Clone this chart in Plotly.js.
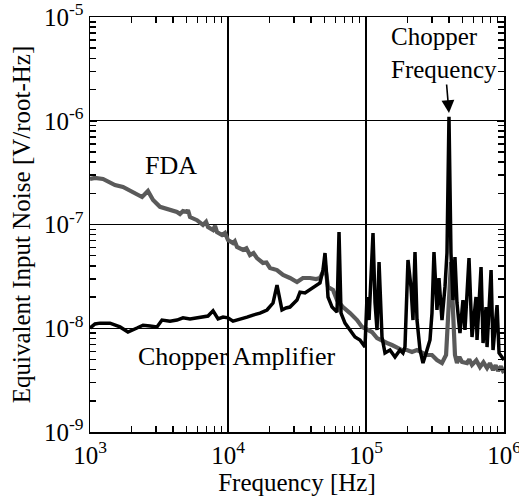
<!DOCTYPE html>
<html>
<head>
<meta charset="utf-8">
<script src="https://cdn.plot.ly/plotly-3.0.1.min.js"></script>
<style>html,body{margin:0;padding:0;background:#fff;}#chart{width:519px;height:502px;}</style>
</head>
<body>
<div id="chart"></div>
<script>
// Chopper amplifier (black): frequency [Hz] and noise [V/rtHz]
var chopFreq = [1000,1087,1181,1396,1649,1884,2191,2422,2722,3057,3324,3800,4269,4720,5306,5962,6586,7164,7792,8472,9206,10000,10870,11620,12220,13740,15180,17060,19170,21190,22650,23820,24610,26310,28120,31620,33250,36140,39280,42700,46410,48790,50460,52170,53050,56740,61660,63750,65920,70450,76580,83230,90460,98330,101700,105200,112400,116300,120200,124300,130600,137300,149200,162200,176300,185300,191600,201500,211800,219000,226500,234200,246200,258800,276700,290800,300700,310900,326800,337900,355300,373500,386200,399300,412800,426800,441300,456300,479700,504300,521400,557700,586300,627100,637600,681900,705100,741200,753700,806100,832700,890700,920800,1000000];
var chopNoise = [1.005e-8,1.10e-8,1.12e-8,1.12e-8,1.03e-8,9.2e-9,1.005e-8,1.07e-8,1.05e-8,1.03e-8,1.20e-8,1.17e-8,1.20e-8,1.26e-8,1.23e-8,1.26e-8,1.28e-8,1.31e-8,1.47e-8,1.23e-8,1.28e-8,1.26e-8,1.17e-8,1.20e-8,1.20e-8,1.28e-8,1.34e-8,1.40e-8,1.50e-8,1.75e-8,2.61e-8,1.87e-8,1.50e-8,1.57e-8,1.60e-8,1.87e-8,2.23e-8,2.19e-8,2.34e-8,2.50e-8,2.73e-8,3.64e-8,5.31e-8,2.92e-8,2.00e-8,1.60e-8,1.43e-8,8.47e-8,1.40e-8,1.12e-8,9.62e-9,8.24e-9,7.71e-9,6.59e-9,2.00e-8,1.20e-8,8.28e-8,1.75e-8,9.62e-9,4.35e-8,8.24e-9,5.77e-9,6.17e-9,5.28e-9,6.17e-9,5.77e-9,6.59e-9,4.55e-8,2.50e-8,1.20e-8,5.43e-8,1.20e-8,6.17e-9,4.62e-9,6.17e-9,7.71e-9,1.40e-8,5.43e-8,1.50e-8,3.05e-8,1.20e-8,2.50e-8,5.31e-8,1.09e-6,5.31e-8,1.87e-8,4.86e-8,1.75e-8,9.00e-9,1.87e-8,9.62e-9,4.75e-8,8.24e-9,2.00e-8,7.71e-9,3.89e-8,7.21e-9,1.60e-8,6.59e-9,3.64e-8,6.17e-9,1.67e-8,5.77e-9,4.94e-9];

// FDA (gray)
var fdaFreq = [1000,1087,1242,1396,1517,1734,2050,2384,2630,2864,3214,3800,4269,4487,4720,5047,5129,5306,5962,6586,6934,7164,7792,8054,8318,9054,9509,10000,10870,11200,11620,12850,13600,14430,15300,16210,17930,19000,20140,22650,25060,28120,31620,34910,39280,43460,46410,48790,50460,53050,57680,61660,68080,76580,86100,93540,101700,110400,120200,130600,141900,154200,167700,182300,198200,215400,234200,254500,276700,300700,326800,355300,380400,399300,412800,426800,441300,456300,475000,496300,539700,560000,586300,630000,670000,710000,753700,790000,832700,870000,905700,950000,1000000];
var fdaNoise = [2.745e-7,2.81e-7,2.745e-7,2.51e-7,2.40e-7,2.30e-7,2.06e-7,1.84e-7,2.10e-7,1.72e-7,1.48e-7,1.38e-7,1.32e-7,1.26e-7,1.35e-7,1.32e-7,1.38e-7,1.18e-7,1.10e-7,9.89e-8,1.06e-7,9.46e-8,8.85e-8,9.67e-8,8.47e-8,7.92e-8,8.28e-8,7.09e-8,6.63e-8,6.9e-8,6.07e-8,5.68e-8,5.9e-8,5.08e-8,5.3e-8,4.75e-8,4.26e-8,4.3e-8,3.81e-8,3.64e-8,3.26e-8,3.05e-8,2.79e-8,3.05e-8,3.05e-8,2.98e-8,3.05e-8,3.48e-8,4.07e-8,2.50e-8,2.34e-8,1.87e-8,1.60e-8,1.40e-8,1.20e-8,1.03e-8,9.62e-9,9.20e-9,8.05e-9,7.71e-9,7.21e-9,6.89e-9,6.59e-9,6.17e-9,6.17e-9,5.90e-9,6.17e-9,5.77e-9,5.52e-9,5.52e-9,4.94e-9,4.62e-9,5.52e-9,1.87e-8,4.35e-8,1.50e-8,5.52e-9,4.62e-9,5.3e-9,4.73e-9,4.62e-9,5.0e-9,4.43e-9,4.9e-9,4.23e-9,4.7e-9,4.14e-9,4.6e-9,3.95e-9,4.4e-9,3.87e-9,4.3e-9,3.70e-9];

var xTickVals = [1e3, 1e4, 1e5, 1e6];
var xTickText = ['10<sup>3</sup>', '10<sup>4</sup>', '10<sup>5</sup>', '10<sup>6</sup>'];
var yTickVals = [1e-9, 1e-8, 1e-7, 1e-6, 1e-5];
var yTickText = ['10<sup>-9</sup>', '10<sup>-8</sup>', '10<sup>-7</sup>', '10<sup>-6</sup>', '10<sup>-5</sup>'];

var chopperPeakFreq = 399300;

function minorVals(lo, hi) {
  var out = [];
  for (var d = lo; d < hi; d++) {
    for (var k = 2; k <= 9; k++) out.push(k * Math.pow(10, d));
  }
  return out;
}

var FONT = '"Liberation Serif"';

var traces = [
  {x: fdaFreq, y: fdaNoise, type: 'scatter', mode: 'lines',
   line: {color: '#5a5a5a', width: 4.2}, name: 'FDA'},
  {x: chopFreq, y: chopNoise, type: 'scatter', mode: 'lines',
   line: {color: '#000000', width: 3.5}, name: 'Chopper Amplifier'}
];

var layout = {
  width: 519, height: 502,
  margin: {l: 90, r: 15, t: 17, b: 70},
  showlegend: false,
  xaxis: {
    type: 'log', range: [3, 6], showline: true, linecolor: '#000', linewidth: 1.5, mirror: 'ticks',
    ticks: 'inside', ticklen: 7, tickcolor: '#000', tickwidth: 1.5,
    showgrid: true, gridcolor: '#000', gridwidth: 1.3,
    tickfont: {family: FONT, size: 25, color: '#000'}, ticklabeloverflow: 'allow',
    tickmode: 'array', tickvals: xTickVals, ticktext: xTickText,
    minor: {tickmode: 'array', tickvals: minorVals(3, 6), ticks: 'inside', ticklen: 6, tickcolor: '#000', tickwidth: 1.5},
    title: {text: 'Frequency [Hz]', font: {family: FONT, size: 25, color: '#000'}, standoff: 6}
  },
  yaxis: {
    type: 'log', range: [-9, -5], showline: true, linecolor: '#000', linewidth: 1.5, mirror: 'ticks',
    ticks: 'inside', ticklen: 7, tickcolor: '#000', tickwidth: 1.5,
    showgrid: true, gridcolor: '#000', gridwidth: 1.3,
    tickfont: {family: FONT, size: 25, color: '#000'}, ticklabeloverflow: 'allow',
    tickmode: 'array', tickvals: yTickVals, ticktext: yTickText,
    minor: {tickmode: 'array', tickvals: minorVals(-9, -5), ticks: 'inside', ticklen: 6, tickcolor: '#000', tickwidth: 1.5},
    title: {text: 'Equivalent Input Noise [V/root-Hz]', font: {family: FONT, size: 25, color: '#000'}, standoff: 6}
  },
  annotations: [
    {x: 3.587, y: -6.436, xref: 'x', yref: 'y', text: 'FDA', showarrow: false,
     font: {family: FONT, size: 26, color: '#000'}},
    {x: 4.065, y: -8.277, xref: 'x', yref: 'y', text: 'Chopper Amplifier', showarrow: false,
     font: {family: FONT, size: 26, color: '#000'}},
    {x: Math.log10(chopperPeakFreq), y: -5.925, xref: 'x', yref: 'y',
     text: 'Chopper<br>Frequency', align: 'left', showarrow: true,
     ax: -5, ay: -60, arrowhead: 2, arrowsize: 1.6, arrowwidth: 1.6, arrowcolor: '#000', standoff: 0,
     font: {family: FONT, size: 25, color: '#000'}}
  ]
};

Plotly.newPlot('chart', traces, layout, {staticPlot: true});
</script>
</body>
</html>
